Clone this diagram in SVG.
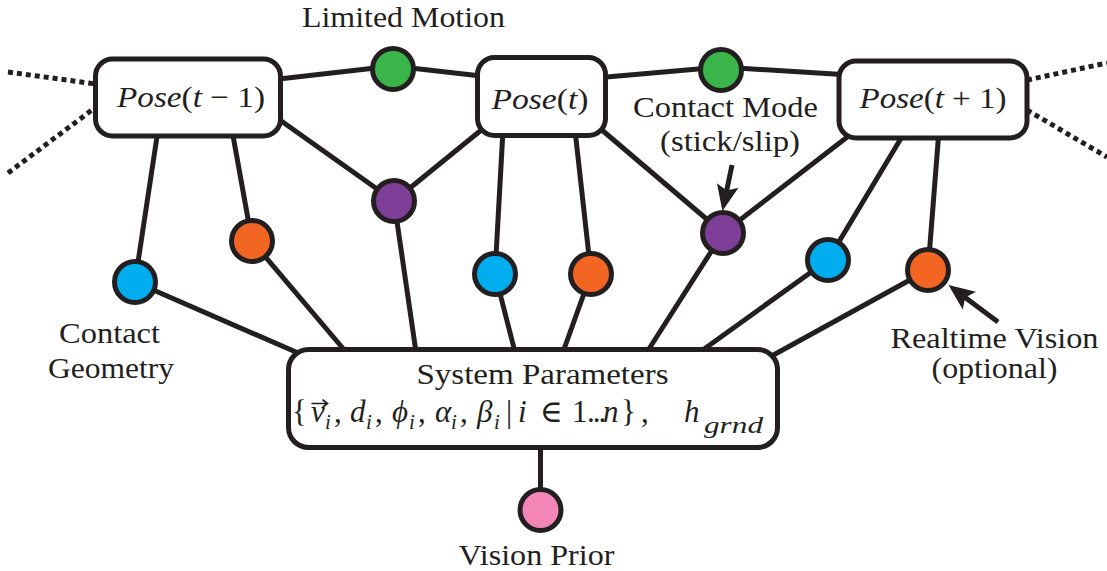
<svg xmlns="http://www.w3.org/2000/svg" width="1107" height="571" viewBox="0 0 1107 571">
  <style>
    .edge { stroke: #231f20; stroke-width: 5; fill: none; }
    .dots { stroke: #231f20; stroke-width: 5; fill: none; stroke-dasharray: 5 4; }
    .box { fill: #ffffff; stroke: #231f20; stroke-width: 5; }
    .fac { stroke: #231f20; stroke-width: 5; }
    .green { fill: #39b54a; }
    .purple { fill: #7f3f98; }
    .blue { fill: #00aeef; }
    .orange { fill: #f26522; }
    .pink { fill: #f386b6; }
    .lbl { font-family: 'Liberation Serif', serif; font-size: 29px; text-anchor: middle; fill: #231f20; }
    .pose { font-family: 'Liberation Serif', serif; font-size: 30px; text-anchor: middle; fill: #231f20; }
    .math { font-family: 'Liberation Serif', 'DejaVu Serif', serif; font-size: 31px; fill: #231f20; }
    .it { font-style: italic; }
    .sub { font-size: 21px; font-style: italic; }
    .sub2 { font-size: 24px; font-style: italic; }
    .accent { stroke: #231f20; stroke-width: 1.6; fill: none; stroke-linecap: round; }
  </style>
  <defs>
    <marker id="head" markerUnits="userSpaceOnUse" markerWidth="40" markerHeight="30" viewBox="-10 -15 40 30" refX="0" refY="0" orient="auto" overflow="visible">
      <path d="M20,0 L-6,-11 L-1,0 L-6,11 Z" fill="#231f20"/>
    </marker>
  </defs>

  <!-- connectors -->
  <g id="connectors">
    <!-- continuation of the chain in time -->
    <line class="dots" x1="8" y1="72" x2="96" y2="84"/>
    <line class="dots" x1="8" y1="173" x2="96" y2="107"/>
    <line class="dots" x1="1027" y1="80" x2="1107" y2="63"/>
    <line class="dots" x1="1027" y1="110" x2="1107" y2="157"/>
    <!-- pose to pose factors -->
    <line class="edge" x1="270" y1="80" x2="393" y2="66"/>
    <line class="edge" x1="393" y1="66" x2="490" y2="77"/>
    <line class="edge" x1="595" y1="78" x2="721" y2="67"/>
    <line class="edge" x1="721" y1="67" x2="850" y2="75"/>
    <line class="edge" x1="270" y1="113" x2="394" y2="201"/>
    <line class="edge" x1="394" y1="201" x2="485" y2="127"/>
    <line class="edge" x1="596" y1="125" x2="723" y2="233"/>
    <line class="edge" x1="723" y1="233" x2="855" y2="131"/>
    <!-- pose to local factors -->
    <line class="edge" x1="158" y1="130" x2="135" y2="282"/>
    <line class="edge" x1="232" y1="130" x2="252" y2="241"/>
    <line class="edge" x1="503" y1="130" x2="495" y2="274"/>
    <line class="edge" x1="575" y1="130" x2="591" y2="274"/>
    <line class="edge" x1="903" y1="135" x2="828" y2="260"/>
    <line class="edge" x1="939" y1="130" x2="928" y2="270"/>
    <!-- factors to system parameters -->
    <line class="edge" x1="135" y1="282" x2="305" y2="356"/>
    <line class="edge" x1="252" y1="241" x2="346" y2="352"/>
    <line class="edge" x1="394" y1="201" x2="416" y2="352"/>
    <line class="edge" x1="495" y1="274" x2="515" y2="352"/>
    <line class="edge" x1="591" y1="274" x2="563" y2="352"/>
    <line class="edge" x1="723" y1="233" x2="647" y2="352"/>
    <line class="edge" x1="828" y1="260" x2="700" y2="352"/>
    <line class="edge" x1="928" y1="270" x2="768" y2="358"/>
    <line class="edge" x1="540.5" y1="447" x2="540.5" y2="510"/>
    <!-- annotation arrows -->
    <line class="edge" x1="732" y1="165" x2="726.5" y2="191.4" marker-end="url(#head)"/>
    <line class="edge" x1="998" y1="322" x2="964.5" y2="297" marker-end="url(#head)"/>
  </g>

  <!-- pose variables -->
  <g id="pose-prev">
    <rect class="box" x="95.5" y="59" width="185" height="77" rx="17"/>
    <text class="pose" x="191" y="107" textLength="148" lengthAdjust="spacingAndGlyphs"><tspan class="it">Pose</tspan>(<tspan class="it">t</tspan> − 1)</text>
  </g>
  <g id="pose-now">
    <rect class="box" x="477.5" y="57.5" width="128" height="78" rx="17"/>
    <text class="pose" x="540" y="109" textLength="97" lengthAdjust="spacingAndGlyphs"><tspan class="it">Pose</tspan>(<tspan class="it">t</tspan>)</text>
  </g>
  <g id="pose-next">
    <rect class="box" x="839" y="61" width="188" height="77" rx="17"/>
    <text class="pose" x="933" y="108" textLength="147" lengthAdjust="spacingAndGlyphs"><tspan class="it">Pose</tspan>(<tspan class="it">t</tspan> + 1)</text>
  </g>

  <!-- system parameters -->
  <g id="system-parameters">
    <rect class="box" x="288.5" y="349.5" width="489" height="98" rx="20"/>
    <text class="lbl" x="542.5" y="384" textLength="252" lengthAdjust="spacingAndGlyphs">System Parameters</text>
    <text class="math" y="422"><tspan x="292">{</tspan><tspan x="311" class="it">v</tspan><tspan x="325" y="429" class="sub">i</tspan><tspan x="334" y="422">,</tspan><tspan x="350" class="it">d</tspan><tspan x="366" y="429" class="sub">i</tspan><tspan x="375" y="422">,</tspan><tspan x="392" class="it">ϕ</tspan><tspan x="409" y="429" class="sub">i</tspan><tspan x="418" y="422">,</tspan><tspan x="435" class="it">α</tspan><tspan x="451" y="429" class="sub">i</tspan><tspan x="460" y="422">,</tspan><tspan x="477" class="it">β</tspan><tspan x="494" y="429" class="sub">i</tspan><tspan x="506" y="422">|</tspan><tspan x="518" class="it">i</tspan><tspan x="540">∈</tspan><tspan x="572">1</tspan><tspan x="587" letter-spacing="-2">...</tspan><tspan x="603" class="it">n</tspan><tspan x="621">}</tspan><tspan x="641">,</tspan><tspan x="684" class="it">h</tspan><tspan x="704" y="433" class="sub2" textLength="59" lengthAdjust="spacingAndGlyphs">grnd</tspan></text>
    <!-- vector accent over v -->
    <path class="accent" d="M312,403.5 H327 M323,400 L327.5,403.5 L323,407"/>
  </g>

  <!-- limited motion factors -->
  <g id="motion-a"><circle class="fac green" cx="393" cy="69" r="20.5"/></g>
  <g id="motion-b"><circle class="fac green" cx="721" cy="70" r="20.5"/></g>
  <!-- contact mode factors -->
  <g id="mode-a"><circle class="fac purple" cx="394" cy="201" r="20.5"/></g>
  <g id="mode-b"><circle class="fac purple" cx="723" cy="233" r="20.5"/></g>
  <!-- contact geometry factors -->
  <g id="geometry-a"><circle class="fac blue" cx="135" cy="282" r="20.5"/></g>
  <g id="geometry-b"><circle class="fac blue" cx="495" cy="274" r="20.5"/></g>
  <g id="geometry-c"><circle class="fac blue" cx="828" cy="260" r="20.5"/></g>
  <!-- realtime vision factors -->
  <g id="vision-a"><circle class="fac orange" cx="252" cy="241" r="20.5"/></g>
  <g id="vision-b"><circle class="fac orange" cx="591" cy="274" r="20.5"/></g>
  <g id="vision-c"><circle class="fac orange" cx="928" cy="270" r="20.5"/></g>
  <!-- vision prior -->
  <g id="vision-prior"><circle class="fac pink" cx="540.5" cy="510" r="20.5"/></g>

  <!-- labels -->
  <g id="labels">
    <text class="lbl" x="403.5" y="27" textLength="203" lengthAdjust="spacingAndGlyphs">Limited Motion</text>
    <text class="lbl" x="725.5" y="117" textLength="185" lengthAdjust="spacingAndGlyphs">Contact Mode</text>
    <text class="lbl" x="730" y="151" textLength="140" lengthAdjust="spacingAndGlyphs">(stick/slip)</text>
    <text class="lbl" x="109.5" y="343" textLength="101" lengthAdjust="spacingAndGlyphs">Contact</text>
    <text class="lbl" x="111" y="378" textLength="126" lengthAdjust="spacingAndGlyphs">Geometry</text>
    <text class="lbl" x="994.5" y="348" textLength="208" lengthAdjust="spacingAndGlyphs">Realtime Vision</text>
    <text class="lbl" x="994.5" y="378" textLength="126" lengthAdjust="spacingAndGlyphs">(optional)</text>
    <text class="lbl" x="536.5" y="565" textLength="156" lengthAdjust="spacingAndGlyphs">Vision Prior</text>
  </g>
</svg>
